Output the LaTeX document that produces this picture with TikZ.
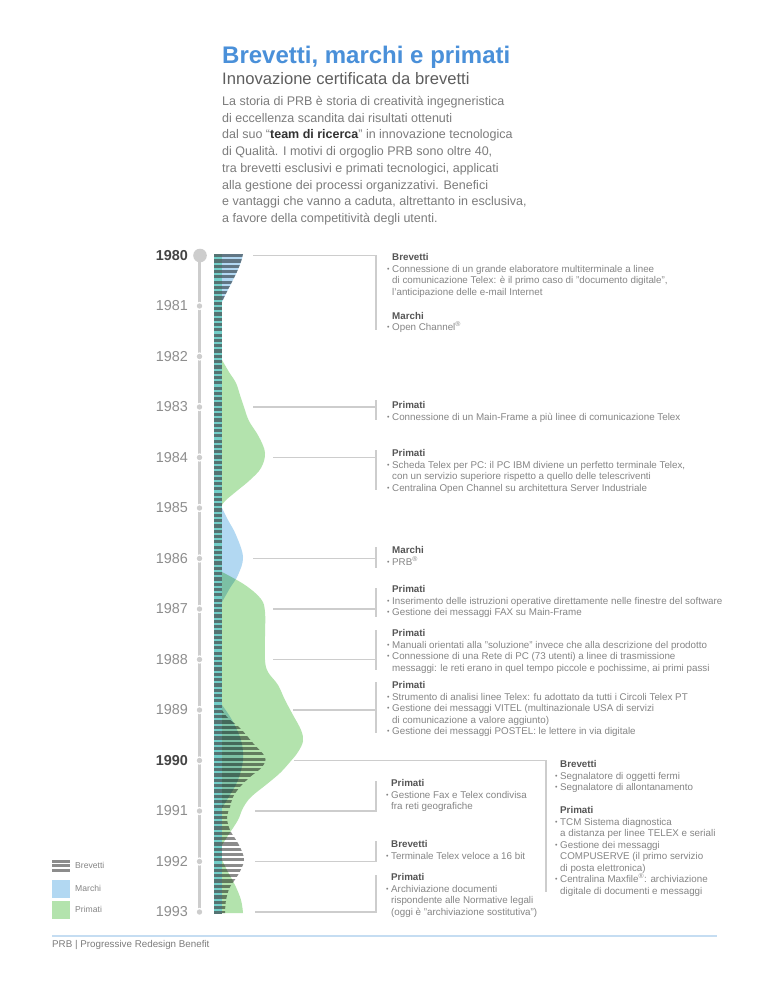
\documentclass[tikz,border=0pt]{standalone}
\usepackage{fontspec}
\setmainfont{Liberation Sans}
\definecolor{titleblue}{HTML}{4A90D9}
\definecolor{subgray}{HTML}{5E5E5E}
\definecolor{bodygray}{HTML}{7C7C7C}
\definecolor{darkgray}{HTML}{333333}
\definecolor{headgray}{HTML}{555555}
\definecolor{txtgray}{HTML}{858585}
\definecolor{linegray}{HTML}{CDCDCD}
\definecolor{yeargray}{HTML}{8E8E8E}
\definecolor{yeardark}{HTML}{444444}
\definecolor{pgreen}{HTML}{B3E3AD}
\definecolor{mblue}{HTML}{B2D8F2}
\definecolor{stripegray}{HTML}{8C8C8C}
\definecolor{colteal}{HTML}{72CEC8}
\definecolor{colstripe}{HTML}{557372}
\definecolor{footblue}{HTML}{C5DDF2}
\newcommand\hd[1]{{\bfseries\color{headgray}#1}}
\newcommand\bu{\llap{\raisebox{0.6pt}{\fontsize{7}{7}\selectfont •}\hspace{2.6pt}}}
\newcommand\blk[1]{\parbox[t]{345pt}{\leavevmode#1}}
\tikzset{
  yearlbl/.style={anchor=east, inner sep=0pt, text=yeargray, font=\fontsize{14.4}{16}\selectfont},
  yearbold/.style={yearlbl, text=yeardark, font=\fontsize{14.4}{16}\selectfont\bfseries},
  block/.style={anchor=base west, inner sep=0pt, text=txtgray, font=\fontsize{9.8}{11.5}\selectfont},
  conn/.style={draw=linegray, line width=1.3pt},
  tline/.style={draw=linegray, line width=3pt},
  legtxt/.style={anchor=mid west, inner sep=0pt, text=txtgray, font=\fontsize{8.6}{10}\selectfont},
}
\begin{document}
\begin{tikzpicture}[x=1pt,y=-1pt]
\useasboundingbox[fill=white] (0,0) rectangle (768,994);

% ---------- header ----------
\node[anchor=base west, inner sep=0pt, text=titleblue, font=\fontsize{24}{28}\selectfont\bfseries] (title) at (222,63) {Brevetti, marchi e primati};
\node[anchor=base west, inner sep=0pt, text=subgray, font=\fontsize{16.6}{20}\selectfont] (subtitle) at (222,84) {Innovazione certificata da brevetti};
\node[anchor=base west, inner sep=0pt, text=bodygray, font=\fontsize{12.5}{16.7}\selectfont] (intro) at (222,105.5) {\parbox[t]{330pt}{\leavevmode
La storia di PRB è storia di creatività ingegneristica\\
di eccellenza scandita dai risultati ottenuti\\
dal suo ``{\bfseries\color{darkgray}team di ricerca}'' in innovazione tecnologica\\
di Qualità. I motivi di orgoglio PRB sono oltre 40,\\
tra brevetti esclusivi e primati tecnologici, applicati\\
alla gestione dei processi organizzativi. Benefici\\
e vantaggi che vanno a caduta, altrettanto in esclusiva,\\
a favore della competitività degli utenti.}};

% ---------- streamgraph ----------
\begin{scope}[blend mode=multiply]
  % primati
  \fill[pgreen] (214,360) -- plot[smooth, tension=0.6] coordinates {(222,360) (229,372) (236,383) (240,395) (244,407) (249,421) (259,437) (265,453) (261,468) (250,480) (238,490) (226,500) (222,505)} -- (214,505) -- cycle;
  \fill[pgreen] (214,572) -- plot[smooth, tension=0.6] coordinates {(222,572) (245,585) (261,599) (265,612) (265,636) (265,660) (268,672) (278,685) (285,700) (293,715) (301,730) (303,741) (298,752) (290,762) (280,773) (267,784) (251,797) (243,808) (238,820) (229,834) (222,845)} -- (214,845) -- cycle;
  \fill[pgreen] (214,860) -- plot[smooth, tension=0.6] coordinates {(222,860) (228,872) (235,885) (241,900) (243,913)} -- (214,913) -- cycle;
  % marchi
  \fill[mblue] (214,254) -- (243,254) .. controls (240,270) and (229,286) .. (222,302) -- (214,302) -- cycle;
  \fill[mblue] (214,508) -- plot[smooth, tension=0.6] coordinates {(222,508) (228,520) (236,535) (243,557) (238,575) (230,588) (222,602)} -- (214,602) -- cycle;
  \fill[mblue] (214,705) -- plot[smooth, tension=0.6] coordinates {(222,705) (232,720) (241,740) (243,760) (238,780) (230,795) (222,808)} -- (214,808) -- cycle;
  % brevetti stripes
  \begin{scope}
    \clip (214,254) -- (243,254) .. controls (240,270) and (229,286) .. (222,302) -- (214,302) -- cycle;
    \foreach \k in {0,...,12} \fill[stripegray] (214,{254+\k*5.3}) rectangle (330,{254+\k*5.3+3.2});
  \end{scope}
  \begin{scope}
    \clip (214,710) -- plot[smooth, tension=0.6] coordinates {(222,710) (228,718) (240,728) (253,743) (265,757) (262,767) (250,777) (240,787) (233,797) (230,807) (227,817) (230,830) (239,845) (244,860) (238,875) (230,887) (226,900) (225,913)} -- (214,913) -- cycle;
    \foreach \k in {85,...,124} \fill[stripegray] (214,{254+\k*5.3}) rectangle (330,{254+\k*5.3+3.2});
  \end{scope}
\end{scope}
% base column
\fill[colteal] (214,254) rectangle (222,913);
\begin{scope}
  \clip (214,254) rectangle (222,913);
  \foreach \k in {0,...,124} \fill[colstripe] (214,{254+\k*5.3}) rectangle (222,{254+\k*5.3+3.2});
\end{scope}

% ---------- timeline axis ----------
\draw[tline] (199.5,255) -- (199.5,913);
\foreach \yy in {306,356.5,407,457.5,508,558.5,609,659.5,710,760.5,811,861.5,912} {
  \fill[white] (199.5,\yy) circle (4.2);
  \fill[linegray] (199.5,\yy) circle (2.7);
}
\fill[linegray] (200,255.5) circle (6.8);

\node[yearbold] (y80) at (188,255.5) {1980};
\node[yearlbl]  (y81) at (188,306) {1981};
\node[yearlbl]  (y82) at (188,356.5) {1982};
\node[yearlbl]  (y83) at (188,407) {1983};
\node[yearlbl]  (y84) at (188,457.5) {1984};
\node[yearlbl]  (y85) at (188,508) {1985};
\node[yearlbl]  (y86) at (188,558.5) {1986};
\node[yearlbl]  (y87) at (188,609) {1987};
\node[yearlbl]  (y88) at (188,659.5) {1988};
\node[yearlbl]  (y89) at (188,710) {1989};
\node[yearbold] (y90) at (188,760.5) {1990};
\node[yearlbl]  (y91) at (188,811) {1991};
\node[yearlbl]  (y92) at (188,861.5) {1992};
\node[yearlbl]  (y93) at (188,912) {1993};

% ---------- connectors ----------
\coordinate (s80) at (253,255.5); \coordinate (k80) at (376,255.5); \coordinate (e80) at (376,330);
\draw[conn] (s80) -- (k80) -- (e80);
\coordinate (s83) at (253,407); \coordinate (k83) at (376,407); \coordinate (t83) at (376,400); \coordinate (b83) at (376,420);
\draw[conn] (s83) -- (k83); \draw[conn] (t83) -- (b83);
\coordinate (s84) at (273,457.5); \coordinate (k84) at (376,457.5); \coordinate (t84) at (376,450); \coordinate (b84) at (376,490);
\draw[conn] (s84) -- (k84); \draw[conn] (t84) -- (b84);
\coordinate (s86) at (253,558.5); \coordinate (k86) at (376,558.5); \coordinate (t86) at (376,547); \coordinate (b86) at (376,568);
\draw[conn] (s86) -- (k86); \draw[conn] (t86) -- (b86);
\coordinate (s87) at (273,609); \coordinate (k87) at (376,609); \coordinate (t87) at (376,588); \coordinate (b87) at (376,617);
\draw[conn] (s87) -- (k87); \draw[conn] (t87) -- (b87);
\coordinate (s88) at (273,659.5); \coordinate (k88) at (376,659.5); \coordinate (t88) at (376,630); \coordinate (b88) at (376,670);
\draw[conn] (s88) -- (k88); \draw[conn] (t88) -- (b88);
\coordinate (s89) at (293,710); \coordinate (k89) at (376,710); \coordinate (t89) at (376,682); \coordinate (b89) at (376,733);
\draw[conn] (s89) -- (k89); \draw[conn] (t89) -- (b89);
\coordinate (s90) at (294,760.5); \coordinate (k90) at (546,760.5); \coordinate (e90) at (546,892);
\draw[conn] (s90) -- (k90) -- (e90);
\coordinate (s91) at (255,811); \coordinate (k91) at (376,811); \coordinate (e91) at (376,781);
\draw[conn] (s91) -- (k91) -- (e91);
\coordinate (s92) at (255,861.5); \coordinate (k92) at (376,861.5); \coordinate (e92) at (376,841);
\draw[conn] (s92) -- (k92) -- (e92);
\coordinate (s93) at (255,912); \coordinate (k93) at (376,912); \coordinate (e93) at (376,875);
\draw[conn] (s93) -- (k93) -- (e93);

% ---------- text blocks ----------
\node[block] (t80) at (392,260.5) {\blk{\hd{Brevetti}\\
\bu Connessione di un grande elaboratore multiterminale a linee\\
di comunicazione Telex: è il primo caso di "documento digitale",\\
l'anticipazione delle e-mail Internet\\[12.5pt]
\hd{Marchi}\\
\bu Open Channel\textsuperscript{®}}};
\node[block] (tx83) at (392,408.5) {\blk{\hd{Primati}\\
\bu Connessione di un Main-Frame a più linee di comunicazione Telex}};
\node[block] (tx84) at (392,456.5) {\blk{\hd{Primati}\\
\bu Scheda Telex per PC: il PC IBM diviene un perfetto terminale Telex,\\
con un servizio superiore rispetto a quello delle telescriventi\\
\bu Centralina Open Channel su architettura Server Industriale}};
\node[block] (tx86) at (392,553.5) {\blk{\hd{Marchi}\\
\bu PRB\textsuperscript{®}}};
\node[block] (tx87) at (392,592.5) {\blk{\hd{Primati}\\
\bu Inserimento delle istruzioni operative direttamente nelle finestre del software\\
\bu Gestione dei messaggi FAX su Main-Frame}};
\node[block] (tx88) at (392,636.5) {\blk{\hd{Primati}\\
\bu Manuali orientati alla "soluzione" invece che alla descrizione del prodotto\\
\bu Connessione di una Rete di PC (73 utenti) a linee di trasmissione\\
messaggi: le reti erano in quel tempo piccole e pochissime, ai primi passi}};
\node[block] (tx89) at (392,688.5) {\blk{\hd{Primati}\\
\bu Strumento di analisi linee Telex: fu adottato da tutti i Circoli Telex PT\\
\bu Gestione dei messaggi VITEL (multinazionale USA di servizi\\
di comunicazione a valore aggiunto)\\
\bu Gestione dei messaggi POSTEL: le lettere in via digitale}};
\node[block] (tx90) at (560,767.5) {\blk{\hd{Brevetti}\\
\bu Segnalatore di oggetti fermi\\
\bu Segnalatore di allontanamento\\[11.5pt]
\hd{Primati}\\
\bu TCM Sistema diagnostica\\
a distanza per linee TELEX e seriali\\
\bu Gestione dei messaggi\\
COMPUSERVE (il primo servizio\\
di posta elettronica)\\
\bu Centralina Maxfile\textsuperscript{®}: archiviazione\\
digitale di documenti e messaggi}};
\node[block] (tx91) at (391,786.5) {\blk{\hd{Primati}\\
\bu Gestione Fax e Telex condivisa\\
fra reti geografiche}};
\node[block] (tx92) at (391,847.5) {\blk{\hd{Brevetti}\\
\bu Terminale Telex veloce a 16 bit}};
\node[block] (tx93) at (391,880.5) {\blk{\hd{Primati}\\
\bu Archiviazione documenti\\
rispondente alle Normative legali\\
(oggi è "archiviazione sostitutiva")}};

% ---------- legend ----------
\fill[stripegray] (52,859.5) rectangle (70,862.5);
\fill[stripegray] (52,864) rectangle (70,867);
\fill[stripegray] (52,868.5) rectangle (70,871.5);
\fill[mblue] (52,880) rectangle (70,898);
\fill[pgreen] (52,901) rectangle (70,919);
\node[legtxt] (lb) at (75,865.5) {Brevetti};
\node[legtxt] (lm) at (75,889) {Marchi};
\node[legtxt] (lp) at (75,910) {Primati};

% ---------- footer ----------
\coordinate (fl) at (52,936); \coordinate (fr) at (717,936);
\draw[draw=footblue, line width=2.4pt] (fl) -- (fr);
\node[anchor=base west, inner sep=0pt, text=bodygray, font=\fontsize{9.8}{12}\selectfont] (foot) at (52,947.5) {PRB | Progressive Redesign Benefit};
\end{tikzpicture}
\end{document}
